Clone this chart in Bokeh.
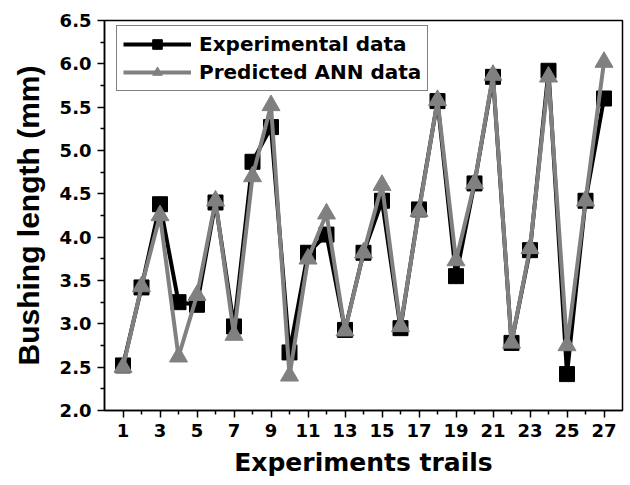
from bokeh.plotting import figure
from bokeh.models import FixedTicker, PrintfTickFormatter, Legend, LegendItem
from bokeh.embed import file_html
from bokeh.resources import INLINE

# ---- data ----
trials = [1, 2, 3, 4, 5, 6, 7, 8, 9, 10, 11, 12, 13, 14, 15, 16, 17, 18, 19,
          20, 21, 22, 23, 24, 25, 26, 27]
experimental = [2.52, 3.42, 4.38, 3.25, 3.22, 4.40, 2.97, 4.87, 5.27, 2.67,
                3.82, 4.03, 2.93, 3.82, 4.42, 2.95, 4.32, 5.57, 3.55, 4.62,
                5.85, 2.78, 3.85, 5.92, 2.42, 4.42, 5.60]
predicted = [2.50, 3.43, 4.25, 2.62, 3.33, 4.42, 2.87, 4.70, 5.52, 2.40,
             3.75, 4.27, 2.92, 3.82, 4.60, 2.97, 4.30, 5.58, 3.73, 4.62,
             5.87, 2.78, 3.87, 5.85, 2.75, 4.42, 6.02]
x_major_ticks = [1, 3, 5, 7, 9, 11, 13, 15, 17, 19, 21, 23, 25, 27]
x_minor_ticks = [2, 4, 6, 8, 10, 12, 14, 16, 18, 20, 22, 24, 26]
y_major_ticks = [2.0, 2.5, 3.0, 3.5, 4.0, 4.5, 5.0, 5.5, 6.0, 6.5]
y_minor_ticks = [2.25, 2.75, 3.25, 3.75, 4.25, 4.75, 5.25, 5.75, 6.25]
series_names = ["Experimental data", "Predicted ANN data"]
x_title = "Experiments trails"
y_title = "Bushing length (mm)"

FONT = "DejaVu Sans"
YFONT = "Liberation Sans"
GRAY = "#808080"

p = figure(width=630, height=485, x_range=(0, 28), y_range=(2.0, 6.5),
           output_backend="svg", toolbar_location=None,
           min_border_left=104, min_border_right=8, min_border_top=20,
           min_border_bottom=75)
p.grid.visible = False
p.outline_line_color = "black"
p.outline_line_width = 1.5
p.background_fill_color = "white"
p.border_fill_color = "white"

r1l = p.line(trials, experimental, line_color="black", line_width=4)
r1s = p.scatter(trials, experimental, marker="square", size=15,
                fill_color="black", line_color="black")
r2l = p.line(trials, predicted, line_color=GRAY, line_width=4)
r2s = p.scatter(trials, predicted, marker="triangle", size=18,
                fill_color=GRAY, line_color=GRAY)

legend = Legend(items=[LegendItem(label=series_names[0], renderers=[r1l, r1s]),
                       LegendItem(label=series_names[1], renderers=[r2l, r2s])],
                location=(12, 390 - 7 - 64))
legend.margin = 0
legend.padding = 6
legend.spacing = 4
legend.glyph_width = 68
legend.glyph_height = 24
legend.label_height = 24
legend.label_standoff = 8
legend.label_text_font = FONT
legend.label_text_font_style = "bold"
legend.label_text_font_size = "20px"
legend.label_text_color = "black"
legend.label_text_baseline = "middle"
legend.border_line_color = "black"
legend.border_line_width = 1
legend.background_fill_alpha = 1.0
p.add_layout(legend)

p.xaxis.ticker = FixedTicker(ticks=x_major_ticks, minor_ticks=x_minor_ticks)
p.yaxis.ticker = FixedTicker(ticks=y_major_ticks, minor_ticks=y_minor_ticks)
p.yaxis.formatter = PrintfTickFormatter(format="%.1f")

for ax in (p.xaxis[0], p.yaxis[0]):
    ax.axis_line_width = 1.5
    ax.axis_line_color = "black"
    ax.major_tick_line_color = "black"
    ax.minor_tick_line_color = "black"
    ax.major_tick_line_width = 1.5
    ax.minor_tick_line_width = 1.5
    ax.major_tick_in = 0
    ax.major_tick_out = 7
    ax.minor_tick_in = 0
    ax.minor_tick_out = 4
    ax.major_label_text_font = FONT
    ax.major_label_text_font_style = "bold"
    ax.major_label_text_font_size = "18px"
    ax.major_label_text_color = "black"
    ax.major_label_standoff = 6
    ax.axis_label_text_font_style = "bold"
    ax.axis_label_text_color = "black"

p.xaxis.axis_label = x_title
p.yaxis.axis_label = y_title
p.xaxis.axis_label_text_font = FONT
p.yaxis.axis_label_text_font = YFONT
p.xaxis.axis_label_text_font_size = "25px"
p.yaxis.axis_label_text_font_size = "30px"
p.xaxis.axis_label_standoff = 8
p.yaxis.axis_label_standoff = 12

open("out.html", "w").write(file_html(p, INLINE))
